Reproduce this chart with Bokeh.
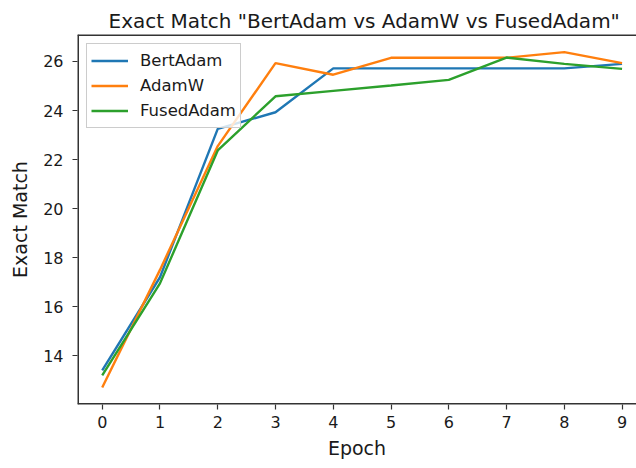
from bokeh.plotting import figure
from bokeh.models import Range1d, FixedTicker, Legend, LegendItem, Span
from bokeh.embed import file_html
from bokeh.resources import INLINE

epochs = [0, 1, 2, 3, 4, 5, 6, 7, 8, 9]
bert_adam = [13.4, 17.2, 23.25, 23.93, 25.72, 25.72, 25.72, 25.72, 25.72, 25.9]
adamw = [12.7, 17.5, 22.55, 25.93, 25.46, 26.15, 26.15, 26.15, 26.38, 25.93]
fused_adam = [13.2, 16.95, 22.37, 24.58, 24.8, 25.02, 25.25, 26.16, 25.9, 25.7]
x_ticks = [0, 1, 2, 3, 4, 5, 6, 7, 8, 9]
y_ticks = [14, 16, 18, 20, 22, 24, 26]

FONT = "DejaVu Sans"
INK = "#1a1a1a"
SPINE = "#333333"

x_range = Range1d(-0.428, 9.25)
y_range = Range1d(12.01, 27.1)

p = figure(width=636, height=464, output_backend="svg", toolbar_location=None,
           x_range=x_range, y_range=y_range,
           min_border_left=77, min_border_right=0, min_border_top=34, min_border_bottom=60,
           title='Exact Match "BertAdam vs AdamW vs FusedAdam"')
p.title.align = "left"
p.title.offset = 31
p.title.standoff = 4
p.title.text_font = FONT
p.title.text_font_size = "20px"
p.title.text_font_style = "normal"
p.title.text_color = INK

p.xgrid.visible = False
p.ygrid.visible = False
p.outline_line_color = None

xaxis = p.below[0]
yaxis = p.left[0]

for ax in (xaxis, yaxis):
    ax.axis_line_color = None
    ax.major_tick_in = 0
    ax.major_tick_out = 5
    ax.major_tick_line_width = 1.2
    ax.minor_tick_line_color = None
    ax.major_tick_line_color = SPINE
    ax.major_label_text_font = FONT
    ax.major_label_text_font_size = "16px"
    ax.major_label_text_color = INK
    ax.axis_label_text_font = FONT
    ax.axis_label_text_font_size = "19px"
    ax.axis_label_text_font_style = "normal"
    ax.axis_label_text_color = INK

xaxis.ticker = FixedTicker(ticks=x_ticks)
yaxis.ticker = FixedTicker(ticks=y_ticks)
xaxis.axis_label = "Epoch"
yaxis.axis_label = "Exact Match"
xaxis.major_label_standoff = 6
yaxis.major_label_standoff = 9
xaxis.axis_label_standoff = 6
yaxis.axis_label_standoff = 9

# spines: top, bottom, left (the reference has no right spine)
p.add_layout(Span(location=y_range.end, dimension="width", line_color=SPINE, line_width=3))
p.add_layout(Span(location=y_range.start, dimension="width", line_color=SPINE, line_width=3))
p.add_layout(Span(location=x_range.start, dimension="height", line_color=SPINE, line_width=3))

r1 = p.line(epochs, bert_adam, line_color="#1f77b4", line_width=2.4)
r2 = p.line(epochs, adamw, line_color="#ff7f0e", line_width=2.4)
r3 = p.line(epochs, fused_adam, line_color="#2ca02c", line_width=2.4)

legend = Legend(items=[LegendItem(label="BertAdam", renderers=[r1]),
                       LegendItem(label="AdamW", renderers=[r2]),
                       LegendItem(label="FusedAdam", renderers=[r3])],
                location="top_left")
legend.label_text_font = FONT
legend.label_text_font_size = "16.5px"
legend.label_text_color = INK
legend.label_height = 25
legend.glyph_height = 25
legend.border_line_color = "#cccccc"
legend.border_line_alpha = 1
legend.border_line_width = 1.2
legend.background_fill_alpha = 0.8
legend.glyph_width = 37
legend.label_standoff = 12
legend.spacing = 0
legend.padding = 4
legend.margin = 9
p.add_layout(legend)

open("out.html", "w").write(file_html(p, INLINE))
